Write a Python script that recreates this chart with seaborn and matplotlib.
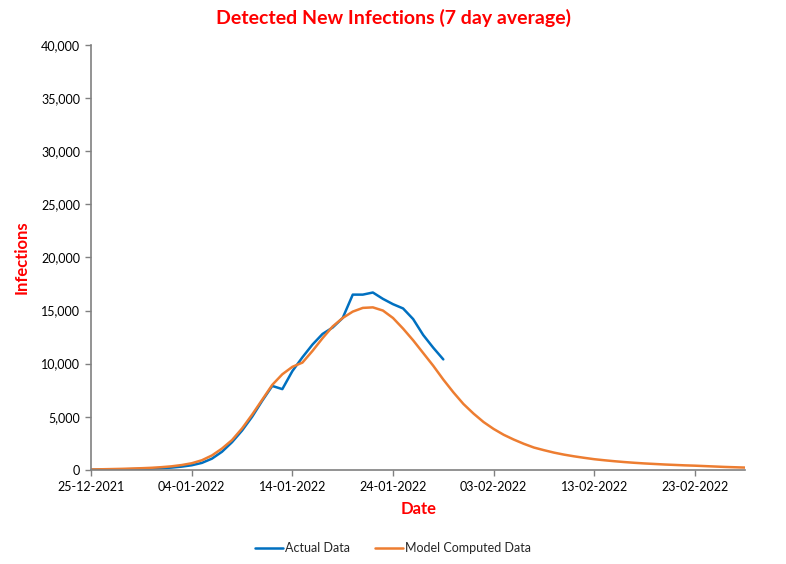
import pandas as pd
import numpy as np
import seaborn as sns
import matplotlib.pyplot as plt
import matplotlib.dates as mdates

# =============================================================================
# Data
# =============================================================================

start_date = "2021-12-25"

actual_values = [
    10, 20, 30, 45, 60, 80, 110, 150, 210, 300,
    430, 650, 1050, 1700, 2600, 3700, 5000, 6500, 7900, 7600,
    9300, 10600, 11800, 12800, 13400, 14300, 16500, 16500, 16700, 16100,
    15600, 15200, 14200, 12700, 11500, 10400,
]

model_values = [
    30, 50, 70, 90, 120, 150, 190, 250, 330, 450,
    620, 900, 1350, 2000, 2800, 3900, 5200, 6600, 8000, 9000,
    9700, 10100, 11200, 12400, 13500, 14300, 14900, 15250, 15300, 15000,
    14300, 13300, 12200, 11000, 9800, 8500, 7300, 6200, 5300, 4500,
    3850, 3300, 2850, 2450, 2100, 1850, 1620, 1430, 1270, 1130,
    1000, 900, 810, 730, 660, 600, 550, 500, 460, 420,
    390, 350, 310, 270, 240, 210,
]

series_names = ["Actual Data", "Model Computed Data"]
series_colors = ["#0070C0", "#ED7D31"]

# =============================================================================
# Build long table
# =============================================================================

actual_df = pd.DataFrame({
    "Date": pd.date_range(start_date, periods=len(actual_values), freq="D"),
    "Infections": actual_values,
    "Series": series_names[0],
})

model_df = pd.DataFrame({
    "Date": pd.date_range(start_date, periods=len(model_values), freq="D"),
    "Infections": model_values,
    "Series": series_names[1],
})

df = pd.concat([actual_df, model_df], ignore_index=True)

# =============================================================================
# Plot
# =============================================================================

sns.set_style("white")
plt.rcParams["font.family"] = ["Lato", "DejaVu Sans"]

fig = plt.figure(figsize=(7.86, 5.64), dpi=100)
ax = fig.add_axes([0.116, 0.167, 0.832, 0.753])

sns.lineplot(
    data=df,
    x="Date",
    y="Infections",
    hue="Series",
    hue_order=series_names,
    palette=series_colors,
    linewidth=1.8,
    ax=ax,
)

x_start = pd.Timestamp(start_date)
x_end = x_start + pd.Timedelta(days=65)
ax.set_xlim(x_start, x_end)
ax.set_ylim(0, 40000)

ax.set_xticks(pd.date_range(x_start, x_end, freq="10D"))
ax.xaxis.set_major_formatter(mdates.DateFormatter("%d-%m-%Y"))
ax.set_yticks(np.arange(0, 40001, 5000))
ax.yaxis.set_major_formatter(plt.FuncFormatter(lambda v, p: f"{int(v):,}"))

ax.tick_params(axis="both", labelsize=9, colors="black", length=4,
               width=1, direction="out", pad=4)
ax.tick_params(axis="x", bottom=True, color="#808080")
ax.tick_params(axis="y", left=True, color="#808080")

for side in ["top", "right"]:
    ax.spines[side].set_visible(False)
for side in ["left", "bottom"]:
    ax.spines[side].set_color("#808080")
    ax.spines[side].set_linewidth(1.2)

ax.set_xlabel("Date", color="red", fontsize=12, fontweight="bold", labelpad=6)
ax.set_ylabel("Infections", color="red", fontsize=12, fontweight="bold", labelpad=8)

fig.suptitle("Detected New Infections (7 day average)", color="red",
             fontsize=14, fontweight="bold", y=0.985)

handles, labels = ax.get_legend_handles_labels()
ax.legend(
    handles,
    labels,
    loc="center",
    bbox_to_anchor=(0.5, 0.028),
    bbox_transform=fig.transFigure,
    ncol=2,
    frameon=False,
    fontsize=9,
    handlelength=2.2,
    handletextpad=0.2,
    columnspacing=2.0,
)

plt.savefig("out.png", dpi=100)
